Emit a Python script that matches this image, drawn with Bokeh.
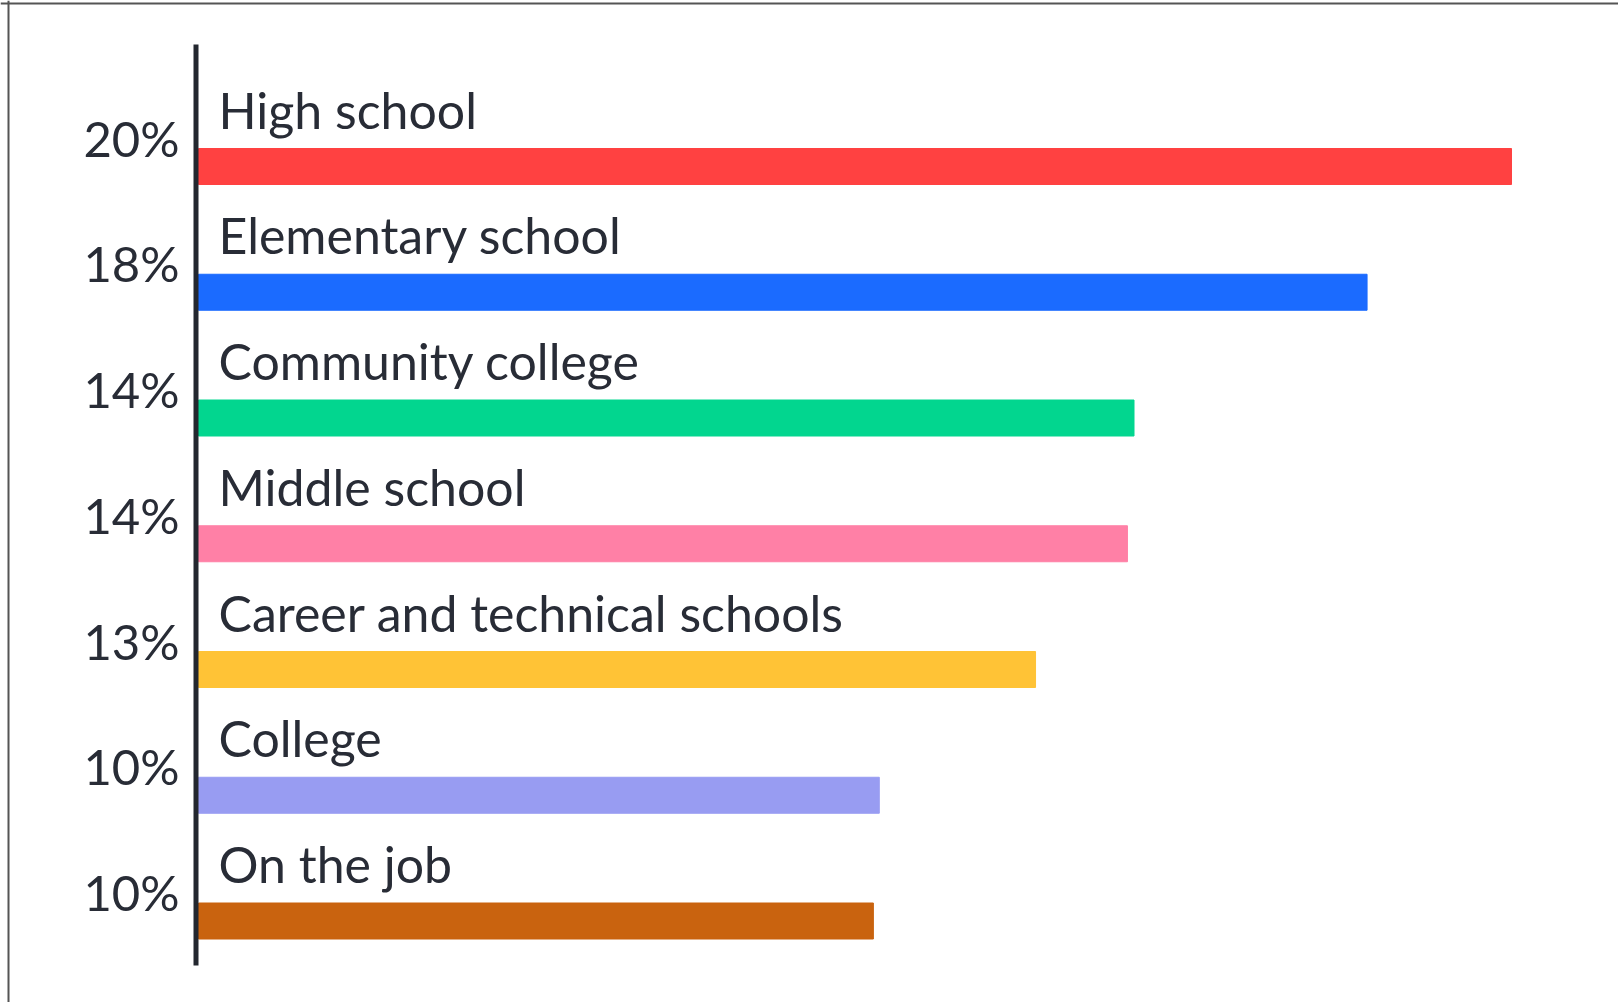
from bokeh.plotting import figure
from bokeh.models import Range1d, Span, ColumnDataSource
from bokeh.core.properties import value
from bokeh.embed import file_html
from bokeh.resources import INLINE

categories = ["High school", "Elementary school", "Community college", "Middle school",
              "Career and technical schools", "College", "On the job"]
values = [20.0, 17.8, 14.25, 14.15, 12.75, 10.37, 10.28]
pct_labels = ["20%", "18%", "14%", "14%", "13%", "10%", "10%"]
colors = ["#ff4141", "#1b6bff", "#02d68f", "#ff80a6", "#ffc336", "#989cf2", "#c9630f"]

W, H = 1618, 1002
PX_PER_PCT = 65.65      # horizontal pixels per percentage point
ORIGIN_X = 198          # canvas x of bar start
ROW = 125.75            # row spacing in pixels
FIRST_Y = 166           # canvas y of first bar centre

idx = list(range(len(categories)))
src = ColumnDataSource(dict(
    y=idx, v=values, cat=categories, pct=pct_labels, color=colors,
    cat_y=[i - 57 / ROW for i in idx],
    pct_y=[i - 29 / ROW for i in idx],
))

p = figure(width=W, height=H, output_backend="svg", toolbar_location=None,
           x_axis_type=None, y_axis_type=None, min_border=0,
           x_range=Range1d(-ORIGIN_X / PX_PER_PCT, (W - ORIGIN_X) / PX_PER_PCT),
           y_range=Range1d((H - FIRST_Y) / ROW, -FIRST_Y / ROW))
p.outline_line_color = None
p.background_fill_color = "white"
p.border_fill_color = "white"

# bars
p.hbar(y="y", left=0, right="v", height=36 / ROW, color="color", source=src)

# axis line
p.segment(x0=-2.5 / PX_PER_PCT, x1=-2.5 / PX_PER_PCT,
          y0=(44 - FIRST_Y) / ROW, y1=(965 - FIRST_Y) / ROW,
          line_width=5, line_color="#23272f")

# category labels
p.text(x=20 / PX_PER_PCT, y="cat_y", text="cat", source=src,
       text_font=value("Lato"), text_font_size="50px", text_color="#282c36",
       text_align="left", text_baseline="alphabetic")

# percentage labels
p.text(x=-19 / PX_PER_PCT, y="pct_y", text="pct", source=src,
       text_font=value("Lato"), text_font_size="49px", text_color="#282c36",
       text_align="right", text_baseline="alphabetic")

# frame border (top and left)
p.add_layout(Span(location=(3 - FIRST_Y) / ROW, dimension="width",
                  line_color="#555555", line_width=2))
p.add_layout(Span(location=(8 - ORIGIN_X) / PX_PER_PCT, dimension="height",
                  line_color="#555555", line_width=2))

open("out.html", "w").write(file_html(p, INLINE))
